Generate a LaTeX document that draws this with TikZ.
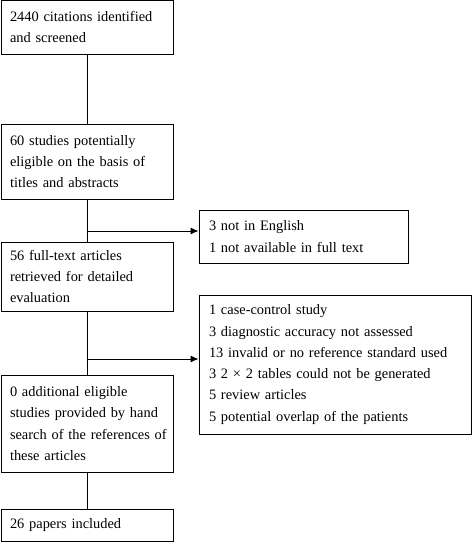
\documentclass[tikz,border=0pt]{standalone}
\usepackage{fontspec}
\setmainfont{Liberation Serif}
\usetikzlibrary{arrows.meta}

\begin{document}
\begin{tikzpicture}[x=1pt, y=-1pt, line width=0.9pt,
  box/.style={draw, rectangle, align=left, inner xsep=9pt, inner ysep=0pt,
    minimum width=172pt, text width=154pt,
    font=\fontsize{14.4}{21.3}\selectfont},
  excl/.style={box, inner xsep=10pt},
  arr/.style={-{Latex[length=8pt,width=7pt]}}]
  \useasboundingbox (0,0) rectangle (472,542);

  % main column
  \node[box, minimum height=54pt] at (87,27) (cit) {2440 citations identified\\and screened};
  \node[box, minimum height=75pt] at (87,161.5) (elig) {60 studies potentially\\eligible on the basis of\\titles and abstracts};
  \node[box, minimum height=69pt] at (87,276.5) (full) {56 full-text articles\\retrieved for detailed\\evaluation};
  \node[box, minimum height=97pt] at (87,423.5) (hand) {0 additional eligible\\studies provided by hand\\\mbox{search of the references of}\\these articles};
  \node[box, minimum height=32pt] at (87,525) (incl) {26 papers included};

  % exclusions
  \node[excl, minimum width=209pt, text width=189pt, minimum height=53pt] at (303.5,236.5) (lang) {3 not in English\\1 not available in full text};
  \node[excl, minimum width=272pt, text width=252pt, minimum height=139pt] at (335,364.5) (rej) {1 case-control study\\3 diagnostic accuracy not assessed\\13 invalid or no reference standard used\\3 2 × 2 tables could not be generated\\5 review articles\\5 potential overlap of the patients};

  % connectors
  \draw (cit) -- (elig);
  \draw (elig) -- (full);
  \draw (full) -- (hand);
  \draw (hand) -- (incl);

  \coordinate (b1) at (87,231);
  \coordinate (b2) at (87,359);
  \draw[arr] (b1) -- (b1 -| lang.west);
  \draw[arr] (b2) -- (b2 -| rej.west);
\end{tikzpicture}
\end{document}
